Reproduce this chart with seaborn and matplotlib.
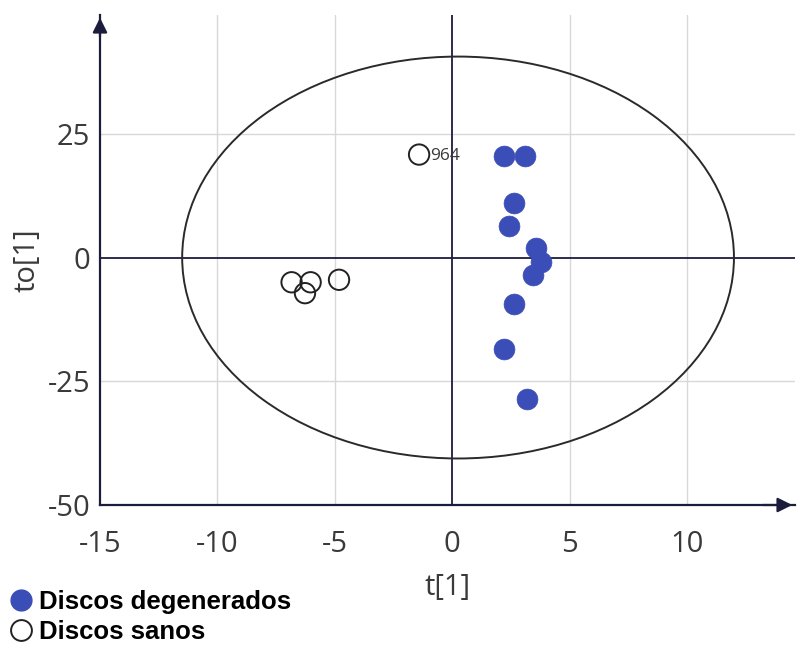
import numpy as np
import pandas as pd
import matplotlib
matplotlib.use("Agg")
import matplotlib.pyplot as plt
import seaborn as sns
from matplotlib.patches import Ellipse
from matplotlib.lines import Line2D

# ---- data ----
deg_t = [2.19, 3.11, 2.62, 2.40, 3.57, 3.78, 3.43, 2.62, 2.19, 3.20]
deg_to = [20.6, 20.6, 11.1, 6.3, 1.9, -0.95, -3.6, -9.4, -18.4, -28.6]
san_t = [-6.84, -6.03, -6.27, -4.82, -1.41]
san_to = [-5.0, -5.0, -7.2, -4.5, 20.8]
san_labels = ["", "", "", "", "964"]
group_names = ["Discos degenerados", "Discos sanos"]
x_ticks = [-15, -10, -5, 0, 5, 10]
y_ticks = [-50, -25, 0, 25]
ellipse_center = (0.25, 0.0)
ellipse_semi = (11.75, 40.6)

df = pd.DataFrame({
    "t": deg_t + san_t,
    "to": deg_to + san_to,
    "grupo": [group_names[0]] * len(deg_t) + [group_names[1]] * len(san_t),
})

sns.set_theme(style="white")
plt.rcParams["font.family"] = ["Open Sans", "DejaVu Sans"]
plt.rcParams["axes.unicode_minus"] = False

navy = "#1c1c3c"
blue = "#3b4db7"
txt = "#3a3a3a"

fig = plt.figure(figsize=(7.99, 6.47), dpi=100)
ax = fig.add_axes([100 / 799, (647 - 505) / 647, (795 - 100) / 799, (505 - 15) / 647])

ax.set_xlim(-15, 14.6)
ax.set_ylim(-50, 49)

# grid
for gx in [-10, -5, 5, 10]:
    ax.axvline(gx, color="#d8d8d8", lw=1.0, zorder=0)
for gy in [-25, 25]:
    ax.axhline(gy, color="#d8d8d8", lw=1.0, zorder=0)

# zero lines
ax.axvline(0, color=navy, lw=1.3, zorder=1)
ax.axhline(0, color=navy, lw=1.3, zorder=1)

# ellipse
ax.add_patch(Ellipse(ellipse_center, 2 * ellipse_semi[0], 2 * ellipse_semi[1],
                     fill=False, edgecolor="#2a2a2a", lw=1.4, zorder=2))

d_deg = df[df["grupo"] == group_names[0]]
d_san = df[df["grupo"] == group_names[1]]
sns.scatterplot(data=d_deg, x="t", y="to", ax=ax, s=225, color=blue,
                edgecolor=blue, linewidth=0.5, zorder=4, legend=False)
sns.scatterplot(data=d_san, x="t", y="to", ax=ax, s=215, facecolor="none",
                edgecolor="#222222", linewidth=1.4, zorder=4, legend=False)

for xv, yv, lab in zip(san_t, san_to, san_labels):
    if lab:
        ax.annotate(lab, (xv, yv), xytext=(8, -7), textcoords="offset points",
                    fontsize=12.5, color=txt, va="bottom", ha="left")

# spines
for s in ["top", "right"]:
    ax.spines[s].set_visible(False)
for s in ["left", "bottom"]:
    ax.spines[s].set_color(navy)
    ax.spines[s].set_linewidth(1.6)

# arrows
ax.annotate("", xy=(0, 1.0), xytext=(0, 0.95), xycoords="axes fraction",
            arrowprops=dict(arrowstyle="-|>", color=navy, lw=1.6, mutation_scale=22))
ax.annotate("", xy=(1.0, 0), xytext=(0.95, 0), xycoords="axes fraction",
            arrowprops=dict(arrowstyle="-|>", color=navy, lw=1.6, mutation_scale=22))

ax.set_xticks(x_ticks)
ax.set_yticks(y_ticks)
ax.set_xticks(np.arange(-12.5, 14, 5), minor=True)
ax.set_yticks(np.arange(-45, 46, 5), minor=True)
ax.tick_params(axis="both", which="major", length=6, width=1.5, color=navy,
               labelsize=21, labelcolor=txt, direction="out")
ax.tick_params(axis="both", which="minor", length=4, width=1.3, color=navy,
               direction="out")
ax.tick_params(axis="x", which="major", pad=12)
ax.tick_params(axis="y", which="major", pad=1)

ax.set_xlabel("t[1]", fontsize=21, color=txt, labelpad=10)
ax.set_ylabel("to[1]", fontsize=21, color=txt, labelpad=4)

# legend
handles = [
    Line2D([], [], marker="o", linestyle="none", markersize=15, markerfacecolor=blue,
           markeredgecolor=blue),
    Line2D([], [], marker="o", linestyle="none", markersize=15, markerfacecolor="white",
           markeredgecolor="#222222", markeredgewidth=1.4),
]
leg = fig.legend(handles, group_names, loc="upper left", bbox_to_anchor=(0.005, 0.1),
                 frameon=False, handlelength=0.7, handletextpad=0.35, labelspacing=0.22,
                 borderaxespad=0, borderpad=0.3,
                 prop={"family": "Liberation Sans", "weight": "bold", "size": 18.5})
for t in leg.get_texts():
    t.set_color("black")

fig.savefig("out.png", dpi=100)
